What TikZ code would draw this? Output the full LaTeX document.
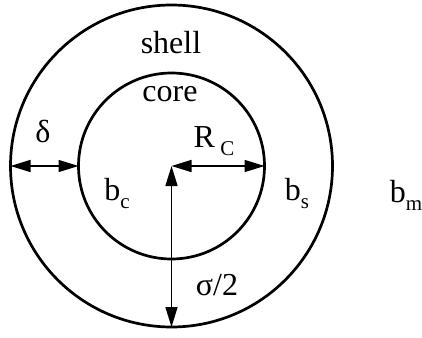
\documentclass[tikz,border=0pt]{standalone}
\usepackage{fontspec}
\setmainfont{Liberation Serif}
\usetikzlibrary{arrows.meta}
\newcommand{\sbs}[1]{\raisebox{-0.28em}{\fontsize{21}{24}\selectfont #1}}
\begin{document}
\begin{tikzpicture}[x=1pt,y=-1pt,
  ring/.style={draw,circle,line width=2.7pt,inner sep=0pt,outer sep=0pt},
  dim/.style={line width=1.5pt,{Triangle[length=20pt,width=12pt]}-{Triangle[length=20pt,width=12pt]}},
  lbl/.style={anchor=base,inner sep=0pt,font=\fontsize{32}{36}\selectfont}]
\useasboundingbox (0,0) rectangle (422,337);
\coordinate (c) at (171.5,166);
\node[ring,minimum size=322pt] (outer) at (c) {};
\node[ring,minimum size=186pt] (inner) at (c) {};
\draw[dim] (c) -- (inner.east);
\draw[dim] (c) -- (outer.south);
\draw[dim] (outer.west) -- (inner.west);
\node[lbl] (shell) at (171,53) {shell};
\node[lbl] (core) at (170,101) {core};
\node[lbl] (delta) at (43,142) {δ};
\node[lbl] (rc) at (214,147) {R\,\sbs{C}};
\node[lbl] (bc) at (117,200) {b\sbs{c}};
\node[lbl] (bs) at (297,200) {b\sbs{s}};
\node[lbl] (bm) at (406,202) {b\sbs{m}};
\node[lbl] (sig) at (217,295) {σ/2};
\end{tikzpicture}
\end{document}
